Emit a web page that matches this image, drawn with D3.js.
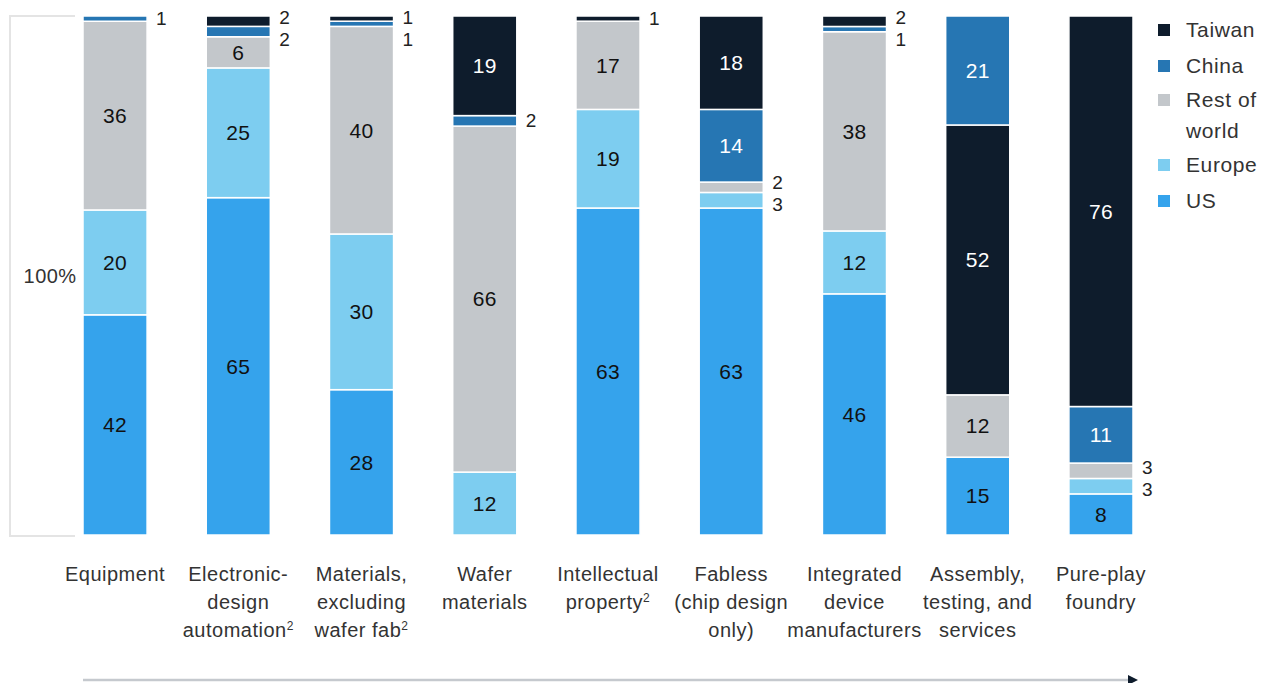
<!DOCTYPE html>
<html>
<head>
<meta charset="utf-8">
<script src="https://cdn.jsdelivr.net/npm/d3@7"></script>
<style>
  body { margin: 0; background: #fff; }
  svg { display: block; font-family: "Liberation Sans", Arial, sans-serif; }
</style>
</head>
<body>
<svg id="chart" width="1272" height="683"></svg>
<script>
{
  const categories = [
    ['Equipment'],
    ['Electronic-', 'design', 'automation^2'],
    ['Materials,', 'excluding', 'wafer fab^2'],
    ['Wafer', 'materials'],
    ['Intellectual', 'property^2'],
    ['Fabless', '(chip design', 'only)'],
    ['Integrated', 'device', 'manufacturers'],
    ['Assembly,', 'testing, and', 'services'],
    ['Pure-play', 'foundry']
  ];

  // share of value added, %
  const us = [42, 65, 28, 0, 63, 63, 46, 15, 8];
  const europe = [20, 25, 30, 12, 19, 3, 12, 0, 3];
  const restOfWorld = [36, 6, 40, 66, 17, 2, 38, 12, 3];
  const china = [1, 2, 1, 2, 0, 14, 1, 21, 11];
  const taiwan = [0, 2, 1, 19, 1, 18, 2, 52, 76];

  const legendLabels = [['Taiwan'], ['China'], ['Rest of', 'world'], ['Europe'], ['US']];

  const TAIWAN = '#0e1c2c';
  const CHINA = '#2676b3';
  const GREY = '#c3c7cb';
  const EUROPE = '#7dcdf0';
  const US = '#35a3ec';
  const TEXT = '#333';

  const series = {
    us: {values: us, color: US, text: '#111'},
    europe: {values: europe, color: EUROPE, text: '#111'},
    rest: {values: restOfWorld, color: GREY, text: '#111'},
    china: {values: china, color: CHINA, text: '#fff'},
    taiwan: {values: taiwan, color: TAIWAN, text: '#fff'}
  };

  const defaultOrder = ['us', 'europe', 'rest', 'china', 'taiwan'];
  // assembly bar puts China above Taiwan
  const orders = categories.map((c, i) => i === 7
    ? ['us', 'europe', 'rest', 'taiwan', 'china']
    : defaultOrder);

  const svg = d3.select('#chart');

  const x = d3.scaleBand()
    .domain(d3.range(categories.length))
    .range([83, 1133])
    .paddingInner(0.48)
    .paddingOuter(0);

  const y = d3.scaleLinear()
    .domain([0, 1])
    .range([535, 16]);

  // build segments, each bar normalised to 100%
  const segments = [];
  categories.forEach((cat, i) => {
    const order = orders[i];
    const total = d3.sum(order, (k) => series[k].values[i]);
    let acc = 0;
    order.forEach((key) => {
      const v = series[key].values[i];
      if (v > 0) {
        segments.push({i, key, value: v, y0: acc / total, y1: (acc + v) / total});
      }
      acc += v;
    });
  });

  // left bracket with 100%
  svg.append('path')
    .attr('d', `M75,${y(1)}H10V${y(0) + 1}H75`)
    .attr('fill', 'none')
    .attr('stroke', '#e4e4e4')
    .attr('stroke-width', 2);

  svg.append('text')
    .attr('x', 50)
    .attr('y', y(0.5))
    .attr('dy', '0.35em')
    .attr('text-anchor', 'middle')
    .attr('font-size', 20)
    .attr('letter-spacing', 0.4)
    .attr('fill', TEXT)
    .text('100%');

  svg.append('g')
    .selectAll('rect')
    .data(segments)
    .join('rect')
      .attr('x', (d) => x(d.i))
      .attr('width', x.bandwidth())
      .attr('y', (d) => y(d.y1))
      .attr('height', (d) => y(d.y0) - y(d.y1))
      .attr('fill', (d) => series[d.key].color)
      .attr('stroke', '#fff')
      .attr('stroke-width', 1.5);

  // labels inside the bigger segments
  svg.append('g')
    .selectAll('text')
    .data(segments.filter((d) => d.value >= 5))
    .join('text')
      .attr('x', (d) => x(d.i) + x.bandwidth() / 2)
      .attr('y', (d) => y((d.y0 + d.y1) / 2))
      .attr('dy', '0.35em')
      .attr('text-anchor', 'middle')
      .attr('font-size', 21)
      .attr('letter-spacing', 0.3)
      .attr('fill', (d) => series[d.key].text)
      .text((d) => d.value);

  // small values go to the right of the bar, spread so they don't collide
  const outside = [];
  categories.forEach((cat, i) => {
    const small = segments
      .filter((d) => d.i === i && d.value < 5)
      .sort((a, b) => b.y1 - a.y1);
    if (!small.length) return;
    const gap = 22;
    const centers = small.map((d) => y((d.y0 + d.y1) / 2));
    const groups = [];
    centers.forEach((c, k) => {
      const last = groups[groups.length - 1];
      if (last && c - last.centers[last.centers.length - 1] < gap) {
        last.items.push(small[k]);
        last.centers.push(c);
      } else {
        groups.push({items: [small[k]], centers: [c]});
      }
    });
    groups.forEach((g) => {
      const n = g.items.length;
      const mean = d3.mean(g.centers);
      let start = mean - gap * (n - 1) / 2;
      start = Math.max(start, 17);
      g.items.forEach((d, k) => outside.push({d, cy: start + k * gap}));
    });
  });

  svg.append('g')
    .selectAll('text')
    .data(outside)
    .join('text')
      .attr('x', (o) => x(o.d.i) + x.bandwidth() + 9)
      .attr('y', (o) => o.cy)
      .attr('dy', '0.35em')
      .attr('font-size', 19)
      .attr('fill', '#222')
      .text((o) => o.d.value);

  // category labels
  const catLabels = svg.append('g')
    .selectAll('text')
    .data(categories)
    .join('text')
      .attr('x', (d, i) => x(i) + x.bandwidth() / 2)
      .attr('y', 581)
      .attr('text-anchor', 'middle')
      .attr('font-size', 20)
      .attr('letter-spacing', 0.5)
      .attr('fill', TEXT);

  catLabels.each(function(lines) {
    const t = d3.select(this);
    lines.forEach((line, k) => {
      const parts = line.split('^');
      t.append('tspan')
        .attr('x', t.attr('x'))
        .attr('dy', k === 0 ? 0 : 28)
        .text(parts[0]);
      if (parts[1]) {
        t.append('tspan')
          .attr('font-size', 12)
          .attr('dy', -7)
          .text(parts[1]);
        t.append('tspan').attr('dy', 7).text('');
      }
    });
  });

  // legend
  const legendY = [30, 66, 100, 165, 201];
  const legendColors = [TAIWAN, CHINA, GREY, EUROPE, US];
  const legend = svg.append('g')
    .selectAll('g')
    .data(legendLabels)
    .join('g')
      .attr('transform', (d, i) => `translate(1158,${legendY[i]})`);

  legend.append('rect')
    .attr('x', 0)
    .attr('y', -6)
    .attr('width', 12)
    .attr('height', 12)
    .attr('fill', (d, i) => legendColors[i]);

  legend.append('text')
    .attr('x', 28)
    .attr('font-size', 21)
    .attr('letter-spacing', 0.6)
    .attr('fill', TEXT)
    .selectAll('tspan')
    .data((d) => d)
    .join('tspan')
      .attr('x', 28)
      .attr('y', (d, k) => k * 31)
      .attr('dy', '0.35em')
      .text((d) => d);

  // value-chain arrow
  svg.append('defs')
    .append('marker')
      .attr('id', 'arrow-head')
      .attr('viewBox', '0 0 10 10')
      .attr('refX', 5)
      .attr('refY', 5)
      .attr('markerWidth', 4)
      .attr('markerHeight', 4)
      .attr('orient', 'auto')
    .append('path')
      .attr('d', 'M0,0L10,5L0,10Z')
      .attr('fill', '#0e1c2c');

  svg.append('line')
    .attr('x1', 83)
    .attr('x2', 1133)
    .attr('y1', 680)
    .attr('y2', 680)
    .attr('stroke', '#c5c9ce')
    .attr('stroke-width', 2.5)
    .attr('marker-end', 'url(#arrow-head)');
}
</script>
</body>
</html>
